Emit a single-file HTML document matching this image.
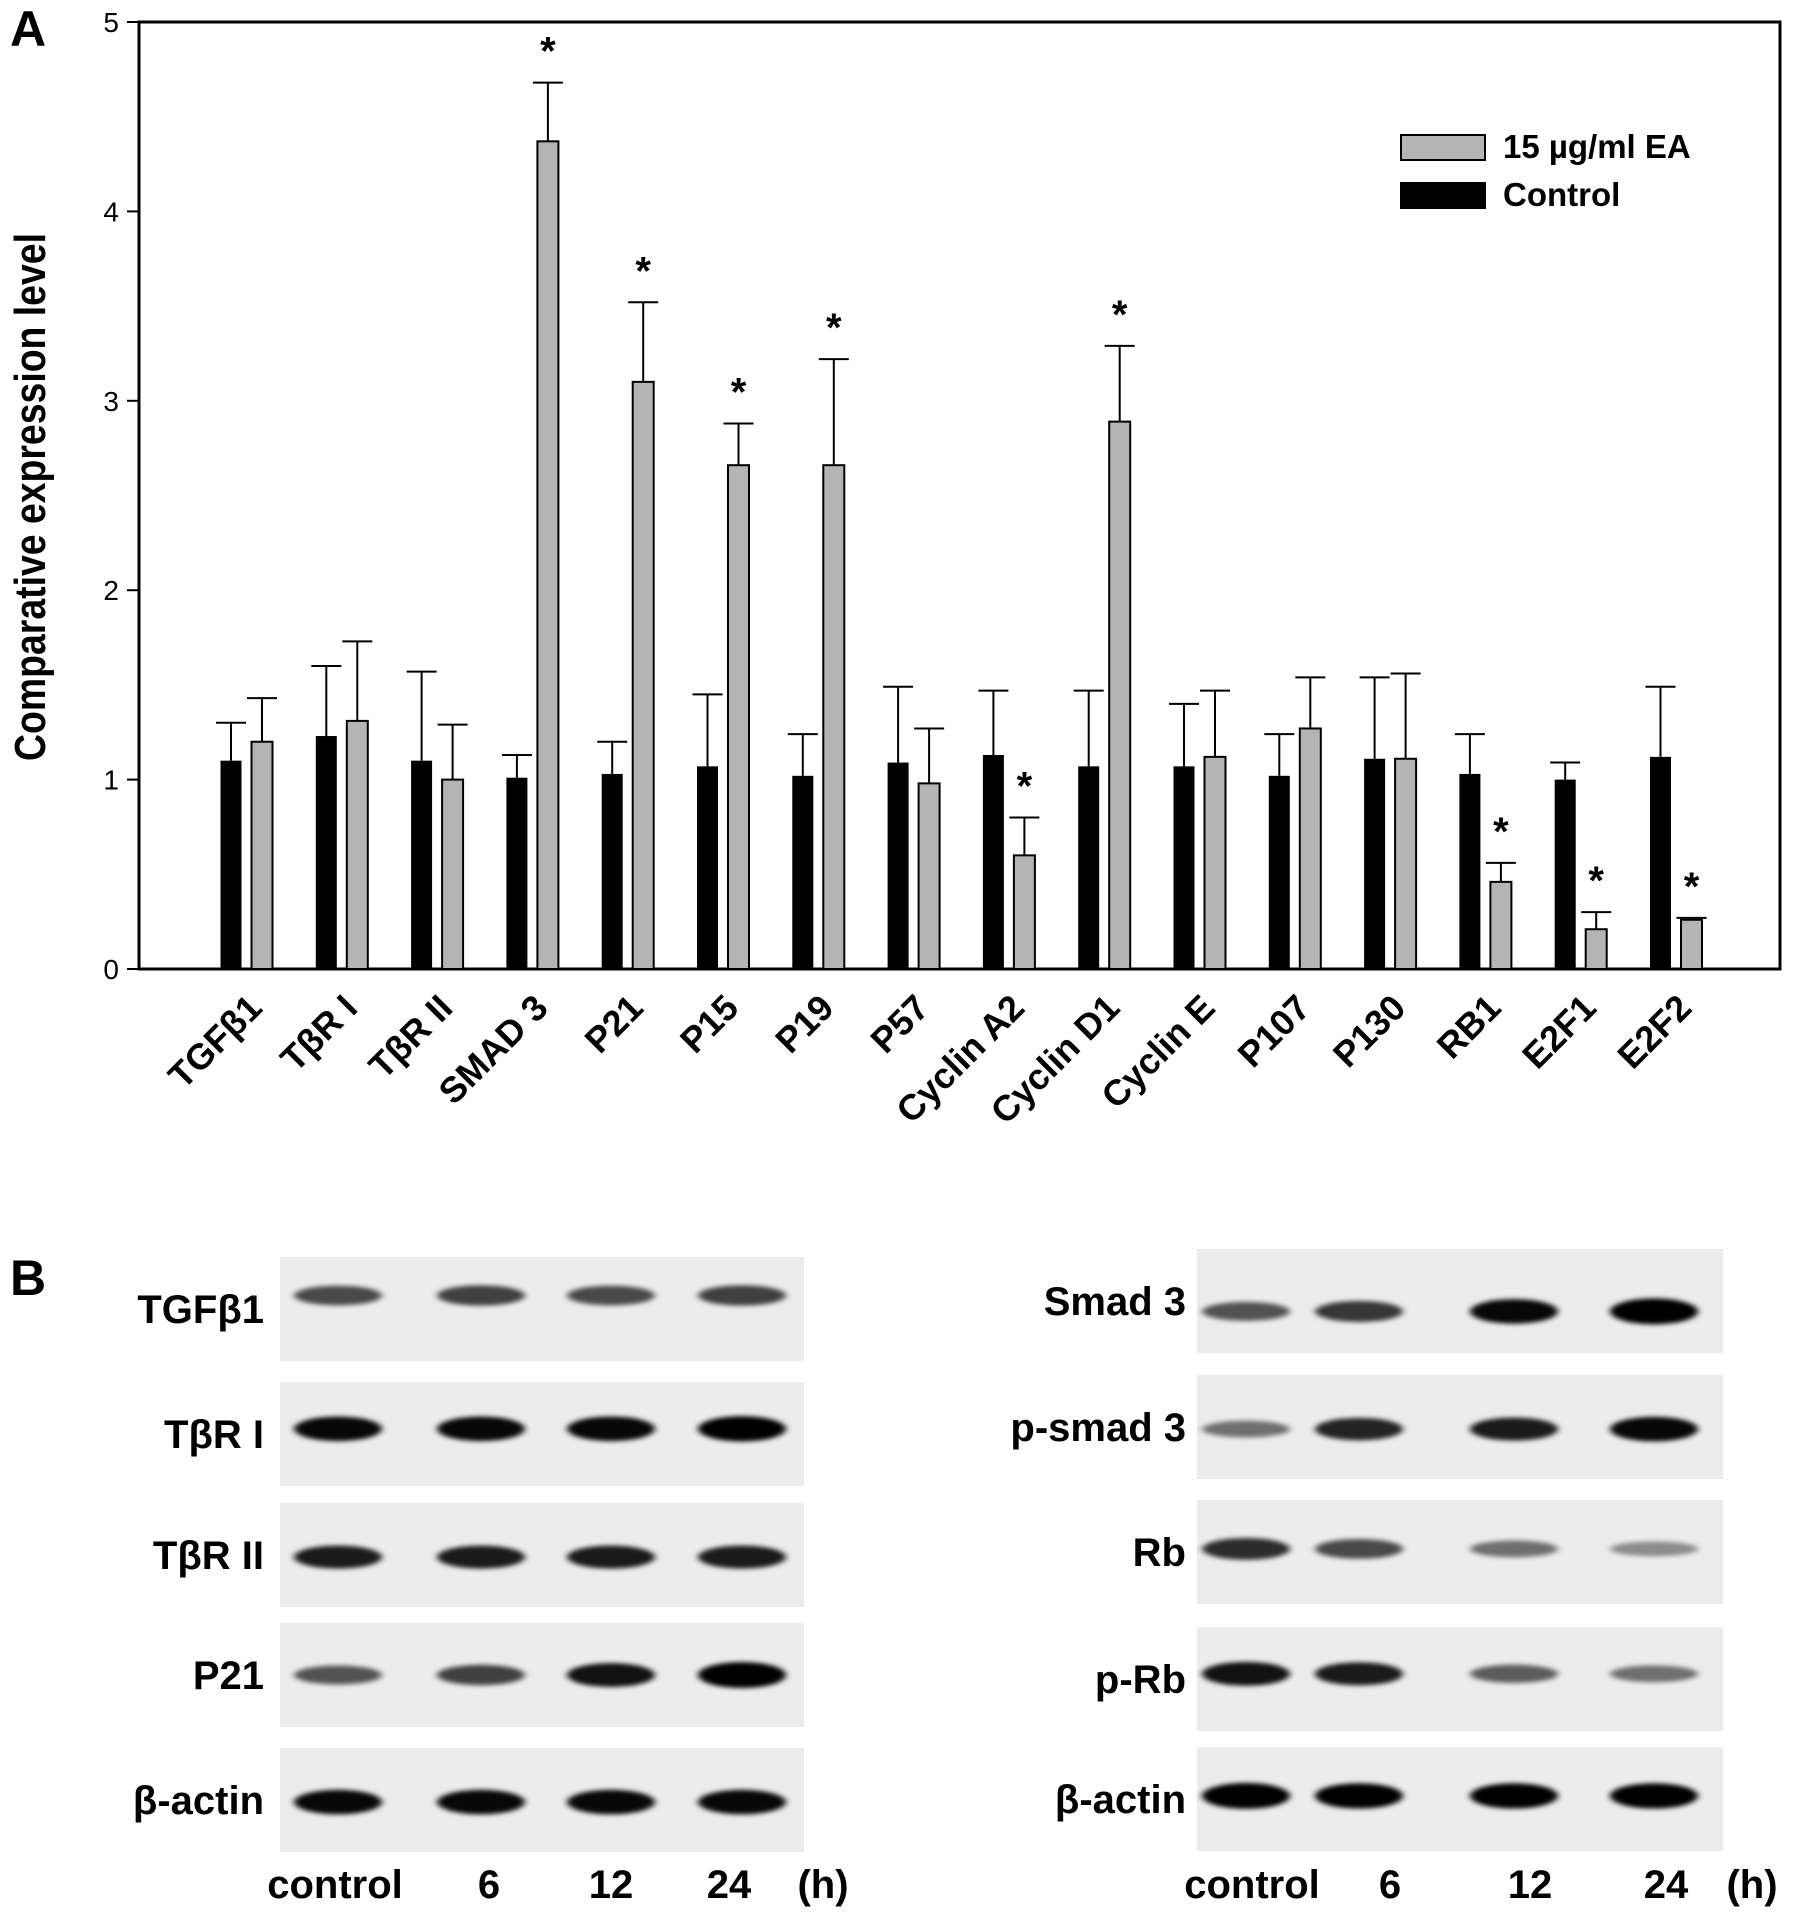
<!DOCTYPE html>
<html><head><meta charset="utf-8">
<style>
html,body{margin:0;padding:0;background:#fff;}
svg{display:block;font-family:"Liberation Sans",Arial,sans-serif;}
</style></head>
<body>
<svg id="fig" width="1795" height="1923" viewBox="0 0 1795 1923" xmlns="http://www.w3.org/2000/svg">
<defs>
<filter id="blur" x="-20%" y="-80%" width="140%" height="260%"><feGaussianBlur stdDeviation="3.5 2.5"/></filter>
</defs>
<text x="10" y="46" font-size="50" font-weight="bold">A</text>
<text x="10" y="1295" font-size="50" font-weight="bold">B</text>
<g id="chart"></g>
<g id="blots"></g>
</svg>
<script>
const categories=["TGFβ1","TβR I","TβR II","SMAD 3","P21","P15","P19","P57","Cyclin A2","Cyclin D1","Cyclin E","P107","P130","RB1","E2F1","E2F2"];
const controlValues=[1.10,1.23,1.10,1.01,1.03,1.07,1.02,1.09,1.13,1.07,1.07,1.02,1.11,1.03,1.00,1.12];
const controlErrTop=[1.30,1.60,1.57,1.13,1.20,1.45,1.24,1.49,1.47,1.47,1.40,1.24,1.54,1.24,1.09,1.49];
const eaValues=[1.20,1.31,1.00,4.37,3.10,2.66,2.66,0.98,0.60,2.89,1.12,1.27,1.11,0.46,0.21,0.26];
const eaErrTop=[1.43,1.73,1.29,4.68,3.52,2.88,3.22,1.27,0.80,3.29,1.47,1.54,1.56,0.56,0.30,0.27];
const significant=[false,false,false,true,true,true,true,false,true,true,false,false,false,true,true,true];
const yTicks=[0,1,2,3,4,5];

const NS="http://www.w3.org/2000/svg";
function mk(tag,attrs,parent,txt){const e=document.createElementNS(NS,tag);for(const k in attrs)e.setAttribute(k,attrs[k]);if(txt!==undefined)e.textContent=txt;parent.appendChild(e);return e;}

const L=139,R=1780,T=22,B=969;
const yScale=v=>B-(v/5)*(B-T);
const xCtrl=i=>231+i*95.3;
const xEA=i=>262+i*95.3;
const BW=21;
const chart=document.getElementById('chart');

let fr=mk('rect',{x:L,y:T,width:R-L,height:B-T,fill:'none',stroke:'#000','stroke-width':3},chart);


yTicks.forEach(t=>{
  const y=yScale(t);
  let tk=mk('line',{x1:L-12,x2:L,y1:y,y2:y,stroke:'#000','stroke-width':2},chart);
  
  
  let tl=mk('text',{x:L-20,y:y+10,'font-size':28,'text-anchor':'end'},chart,String(t));
  
  
});
let yt=mk('text',{x:0,y:0,'font-size':44,'font-weight':'bold','text-anchor':'middle',transform:'translate(45,497) rotate(-90) scale(0.85,1)'},chart,'Comparative expression level');



function errBar(x,vTop,vBar){
  const yt=yScale(vTop),yb=yScale(vBar);
  let l=mk('line',{x1:x,x2:x,y1:yt,y2:yb,stroke:'#000','stroke-width':2},chart);
  
  
  let c=mk('line',{x1:x-15,x2:x+15,y1:yt,y2:yt,stroke:'#000','stroke-width':2},chart);
  
  
}
categories.forEach((c,i)=>{
  const yc=yScale(controlValues[i]);
  let b1=mk('rect',{x:xCtrl(i)-BW/2,y:yc,width:BW,height:B-yc,fill:'#000'},chart);
  
  
  errBar(xCtrl(i),controlErrTop[i],controlValues[i]);
  const ye=yScale(eaValues[i]);
  let b2=mk('rect',{x:xEA(i)-BW/2,y:ye,width:BW,height:B-ye,fill:'#b4b4b4',stroke:'#000','stroke-width':2},chart);
  
  
  errBar(xEA(i),eaErrTop[i],eaValues[i]);
  if(significant[i]){
    let s=mk('text',{x:xEA(i),y:yScale(eaErrTop[i])-18,'font-size':40,'font-weight':'bold','text-anchor':'middle'},chart,'*');
    
    
  }
  const lx=xEA(i)+2, ly=1010;
  let lab=mk('text',{x:0,y:0,'font-size':36,'font-weight':'bold','text-anchor':'end',transform:`translate(${lx},${ly}) rotate(-45)`},chart,c);
  
  
});
let lg1=mk('rect',{x:1401,y:135,width:84,height:25,fill:'#b4b4b4',stroke:'#000','stroke-width':2},chart);


let lt1=mk('text',{x:1503,y:158,'font-size':33,'font-weight':'bold'},chart,'15 µg/ml EA');


let lg2=mk('rect',{x:1400,y:182,width:86,height:27,fill:'#000'},chart);


let lt2=mk('text',{x:1503,y:206,'font-size':33,'font-weight':'bold'},chart,'Control');



const blots=document.getElementById('blots');
const leftRows=["TGFβ1","TβR I","TβR II","P21","β-actin"];
const rightRows=["Smad 3","p-smad 3","Rb","p-Rb","β-actin"];
const leftIntensity=[[0.55,0.6,0.55,0.6],[0.9,0.9,0.9,0.95],[0.8,0.8,0.8,0.8],[0.5,0.6,0.85,1],[0.9,0.9,0.9,0.9]];
const rightIntensity=[[0.5,0.65,0.9,1],[0.35,0.75,0.8,0.9],[0.7,0.55,0.35,0.2],[0.85,0.8,0.45,0.35],[1,0.95,0.95,0.95]];
const leftTops=[1257,1382,1503,1623,1748], rightTops=[1249,1375,1500,1627,1747];
const leftLanes=[338,481,611,742], rightLanes=[1246,1359,1514,1654];
const leftBandY=[0.37,0.45,0.52,0.5,0.52], rightBandY=[0.6,0.52,0.47,0.45,0.47];
function panel(x0,w,tops,rows,lanes,inten,bandY,labelX){
  rows.forEach((r,i)=>{
    const y0=tops[i],h=104;
    let bg=mk('rect',{x:x0,y:y0,width:w,height:h,fill:'#ececec'},blots);
    
    
    lanes.forEach((lx,j)=>{
      const a=inten[i][j];
      let band=mk('ellipse',{cx:lx,cy:y0+h*bandY[i],rx:44,ry:6+a*7,fill:'#000','fill-opacity':Math.min(1,0.25+a*0.8),filter:'url(#blur)'},blots);
      
      
    });
    let t=mk('text',{x:labelX,y:y0+h*0.5+14,'font-size':40,'font-weight':'bold','text-anchor':'end'},blots,r);
    
    
  });
}
panel(280,524,leftTops,leftRows,leftLanes,leftIntensity,leftBandY,264);
panel(1197,526,rightTops,rightRows,rightLanes,rightIntensity,rightBandY,1186);
const timeLabels=["control","6","12","24","(h)"];
const leftTimeX=[335,489,611,729,823], rightTimeX=[1252,1390,1530,1666,1752];
[leftTimeX,rightTimeX].forEach(arr=>{
  timeLabels.forEach((s,j)=>{
    let t=mk('text',{x:arr[j],y:1898,'font-size':40,'font-weight':'bold','text-anchor':'middle'},blots,s);
    
    
  });
});
</script>
</body></html>
